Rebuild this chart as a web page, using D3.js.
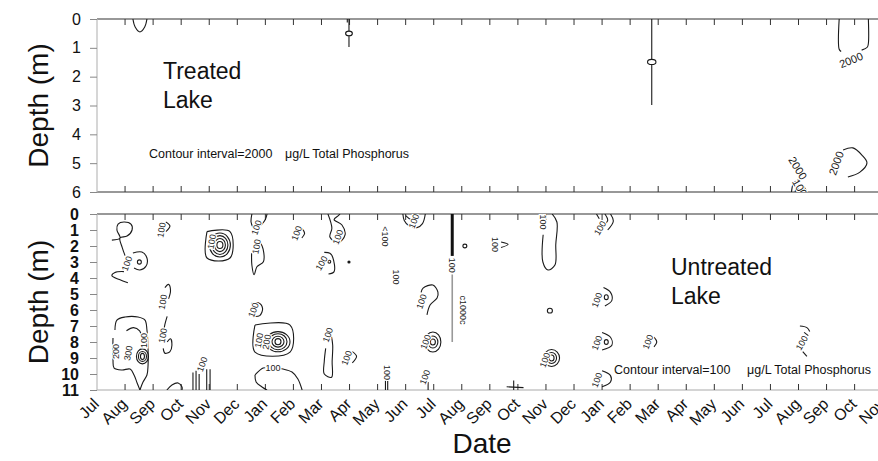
<!DOCTYPE html>
<html><head><meta charset="utf-8">
<script src="https://cdn.jsdelivr.net/npm/d3@7"></script>
<style>
body{margin:0;background:#fff;}
svg{display:block;font-family:"Liberation Sans",Arial,sans-serif;}
</style></head>
<body><svg id="c" width="878" height="461"></svg>
<script>
// ---------- data ----------
const months = ["Jul","Aug","Sep","Oct","Nov","Dec","Jan","Feb","Mar","Apr","May","Jun","Jul","Aug","Sep","Oct","Nov","Dec","Jan","Feb","Mar","Apr","May","Jun","Jul","Aug","Sep","Oct","Nov"];
const treatedDepthTicks = [0,1,2,3,4,5,6];
const untreatedDepthTicks = [0,1,2,3,4,5,6,7,8,9,10,11];

// contour lines: [monthIndex, depth(m)]
const treatedLines = [
  [[1.28,0],[1.36,0.28],[1.53,0.45],[1.7,0.28],[1.78,0]],
  [[8.98,0],[8.98,0.42]], [[8.98,0.58],[8.98,0.97]], [[8.92,0],[8.92,0.12]],
  [[19.77,0],[19.77,1.4]], [[19.77,1.58],[19.77,2.98]],
  [[26.45,0],[26.45,1.05],[26.52,1.13]],
  [[27.25,1.08],[27.45,0.98],[27.49,0.85],[27.49,0]],
  [[26.59,4.54],[26.94,4.47],[27.26,4.72],[27.44,4.99],[27.19,5.31],[26.76,5.48]],
  [[24.75,6],[24.82,5.7],[24.95,5.6]], [[24.88,6],[24.95,5.8],[25.12,5.75],[25.3,6]], [[25.0,6],[25.08,5.9],[25.18,6]]
];
const treatedRings = [
  {m:8.98,d:0.5,rm:0.12,rd:0.08},
  {m:19.77,d:1.49,rm:0.15,rd:0.09}
];
const treatedLabels = [
  {m:26.87,d:1.42,t:"2000",r:-22},
  {m:26.34,d:5.0,t:"2000",r:-70},
  {m:24.98,d:5.17,t:"2000",r:58},
  {m:25.05,d:5.85,t:"100",r:60}
];

const untreatedLines = [
  [[0.53,1.63],[0.82,1.5],[0.71,1.0],[0.75,0.63],[0.96,0.5],[1.21,0.63],[1.25,1.0],[1.07,1.38],[0.82,1.5],[0.9,2.1],[1.0,2.6]],
  [[0.96,3.6],[0.64,3.65],[0.53,3.85],[0.8,4.1],[1.1,4.3]],
  [[1.28,2.44],[1.6,2.38],[1.78,2.75],[1.75,3.25],[1.53,3.5],[1.32,3.38]],
  [[2.45,0.5],[2.6,0.75],[2.45,1.1]],
  [[3.92,1.1],[4.74,1.1],[4.74,2.75],[3.92,2.75],[3.92,1.1]],
  [[5.52,0],[5.49,0.5],[5.56,0.85]], [[5.85,0.7],[6.0,0.35],[6.06,0]],
  [[5.8,1.7],[5.92,2.2],[5.93,2.98],[5.7,3.3],[5.6,3.8],[5.52,3.2],[5.51,2.45]],
  [[7.3,0.9],[7.4,1.2],[7.3,1.5]],
  [[2.42,4.6],[2.55,4.4],[2.62,4.8],[2.55,5.3]], [[2.5,6.4],[2.42,6.9],[2.38,7.3]],
  [[2.5,8.0],[2.62,7.8],[2.67,8.2],[2.6,8.6],[2.42,8.7],[2.36,8.4]],
  [[5.5,5.6],[5.75,5.55],[5.9,5.9],[5.8,6.35],[5.55,6.4]],
  [[0.64,7.25],[0.71,6.63],[1.0,6.44],[1.46,6.44],[1.71,6.63],[1.78,7.25],[1.82,8.5],[1.82,9.44],[1.78,10.06],[1.64,10.5],[1.53,11]],
  [[0.57,7.75],[0.57,9.13],[0.61,9.63],[0.89,9.75],[1.18,9.69],[1.32,10.06],[1.43,10.56],[1.53,11]],
  [[1.05,7.3],[1.3,7.1],[1.52,7.3],[1.58,7.6]],
  [[5.63,6.94],[6.88,6.94],[6.88,8.63],[5.63,8.63],[5.63,6.94]],
  [[5.63,10.06],[5.92,9.63],[6.05,9.62]], [[6.5,9.66],[6.63,9.69],[6.95,9.88],[7.16,10.31],[7.31,11]],
  [[5.63,10.06],[5.67,10.5],[5.88,10.81],[6.06,11]],
  [[2.49,11],[2.67,10.69],[2.89,10.56],[3.03,10.81],[3.03,11]],
  [[3.42,9.9],[3.42,11]], [[3.53,9.8],[3.53,11]], [[3.64,10.0],[3.64,11]], [[3.91,9.7],[3.91,11]], [[4.03,9.7],[4.03,11]],
  [[8.23,0],[8.37,0.88],[8.3,1.44],[8.59,1.81],[8.84,1.31],[8.73,0.69],[8.45,0.35],[8.6,0.1],[8.66,0]],
  [[8.1,2.4],[8.3,2.45],[8.4,2.7],[8.45,3.6],[8.25,3.75]],
  [[10.9,0],[10.95,0.4],[11.1,0.7],[11.4,0.85],[11.6,0.6],[11.7,0]], [[11.0,0.1],[11.2,0.35],[11.45,0.3]],
  [[11.55,4.9],[11.62,4.63],[11.97,4.44],[12.15,4.88],[12.12,5.25],[11.87,5.69],[11.76,6.31]],
  [[8.35,7.6],[8.4,8.2],[8.38,9.2],[8.36,10.2],[8.1,10.0],[8.1,9.2],[8.15,8.4]],
  [[9.1,8.6],[9.25,8.9],[9.1,9.3]],
  [[10.28,10.4],[10.28,11]], [[10.36,10.4],[10.36,11]],
  [[11.8,10.5],[11.8,11]],
  [[14.4,1.75],[14.65,1.9],[14.4,2.1]],
  [[16.22,0],[16.39,0.5],[16.35,1.9],[16.32,3.19],[16.07,3.5],[15.89,3.0],[15.9,1.3]],
  [[14.6,10.8],[15.2,10.85]], [[14.85,10.4],[14.85,11]],
  [[17.8,0],[17.9,0.3]], [[18.1,0],[18.2,0.4],[18.05,0.7]], [[18.3,0],[18.4,0.45],[18.2,1.0]],
  [[18.05,4.6],[18.3,4.9],[18.35,5.4],[18.1,5.75]],
  [[18.0,7.4],[18.3,7.7],[18.35,8.2],[18.0,8.5]],
  [[19.85,7.7],[19.95,8.0],[19.85,8.3]],
  [[18.0,9.8],[18.3,10.1],[18.3,10.5],[18.0,10.8]],
  [[25.05,7.0],[25.3,7.1],[25.4,7.35]], [[25.2,7.4],[25.35,7.6]], [[25.15,8.6],[25.3,8.9]]
];
const untreatedRings = [
  {m:1.51,d:3.0,rm:0.07,rd:0.13},
  {m:4.38,d:1.94,rm:0.107,rd:0.22},{m:4.38,d:1.94,rm:0.196,rd:0.41},{m:4.38,d:1.94,rm:0.285,rd:0.59},{m:4.38,d:1.94,rm:0.374,rd:0.75},
  {m:6.45,d:7.98,rm:0.107,rd:0.19},{m:6.45,d:7.98,rm:0.214,rd:0.34},{m:6.45,d:7.98,rm:0.321,rd:0.5},{m:6.45,d:7.98,rm:0.428,rd:0.63},
  {m:1.62,d:8.9,rm:0.071,rd:0.19},{m:1.62,d:8.9,rm:0.143,rd:0.31},{m:1.62,d:8.9,rm:0.214,rd:0.47},
  {m:11.97,d:8.0,rm:0.089,rd:0.19},{m:11.97,d:8.0,rm:0.178,rd:0.375},{m:11.97,d:8.0,rm:0.285,rd:0.625},
  {m:16.2,d:9.0,rm:0.089,rd:0.19},{m:16.2,d:9.0,rm:0.178,rd:0.34},{m:16.2,d:9.0,rm:0.285,rd:0.53},
  {m:8.28,d:2.98,rm:0.05,rd:0.09},
  {m:13.11,d:2.0,rm:0.07,rd:0.12},
  {m:16.14,d:6.04,rm:0.09,rd:0.15},
  {m:18.15,d:5.2,rm:0.07,rd:0.15},
  {m:18.15,d:8.0,rm:0.07,rd:0.15}
];
const untreatedDots = [{m:8.98,d:3.0}];
const untreatedThick = [[12.66,0],[12.66,2.62]];
const untreatedThin = [[12.66,3.78],[12.66,8.0]];
const untreatedLabels = [
  {m:1.07,d:3.1,t:"100",r:-70},
  {m:2.3,d:1.0,t:"100",r:-80},
  {m:4.09,d:1.73,t:"100",r:-80},
  {m:5.69,d:0.85,t:"100",r:-70},
  {m:5.69,d:2.04,t:"100",r:-80},
  {m:7.12,d:1.2,t:"100",r:-70},
  {m:2.35,d:5.5,t:"100",r:-80},
  {m:2.35,d:7.6,t:"100",r:-80},
  {m:5.58,d:6.0,t:"100",r:-70},
  {m:0.66,d:8.6,t:"200",r:-90},
  {m:1.12,d:8.7,t:"300",r:-80},
  {m:1.66,d:7.9,t:"100",r:-90},
  {m:5.78,d:7.9,t:"100",r:-80},
  {m:6.05,d:8.0,t:"200",r:-80},
  {m:6.27,d:9.63,t:"100",r:0},
  {m:3.75,d:9.4,t:"100",r:-70},
  {m:8.59,d:1.44,t:"100",r:-70},
  {m:8.01,d:3.08,t:"100",r:-60},
  {m:10.26,d:1.4,t:"<100",r:90},
  {m:10.66,d:3.94,t:"100",r:90},
  {m:11.3,d:0.45,t:"100",r:-70},
  {m:12.66,d:3.2,t:"100",r:90},
  {m:14.2,d:1.9,t:"100",r:90},
  {m:13.04,d:6.0,t:"c1000c",r:90},
  {m:11.57,d:5.48,t:"100",r:-70},
  {m:11.72,d:8.0,t:"100",r:-70},
  {m:8.23,d:7.56,t:"100",r:-70},
  {m:8.9,d:9.0,t:"100",r:-70},
  {m:10.33,d:9.9,t:"100",r:90},
  {m:11.69,d:10.2,t:"100",r:-70},
  {m:15.89,d:0.5,t:"100",r:90},
  {m:15.97,d:9.13,t:"100",r:-70},
  {m:17.93,d:0.88,t:"100",r:-60},
  {m:17.82,d:5.38,t:"100",r:-70},
  {m:17.82,d:8.06,t:"100",r:-70},
  {m:19.64,d:8.0,t:"100",r:-70},
  {m:25.12,d:8.06,t:"100",r:-60},
  {m:17.82,d:10.38,t:"100",r:-70}
];

// ---------- drawing ----------
const svg = d3.select("#c");
const W = 878, H = 461;
const xS = d3.scaleLinear().domain([0, months.length - 1]).range([97, 97 + 28 * 28.06]);

function panel(cfg) {
  const y = d3.scaleLinear().domain([0, cfg.maxD]).range([cfg.top, cfg.bottom]);
  const g = svg.append("g");
  const id = "clip" + cfg.name;
  svg.append("clipPath").attr("id", id).append("rect")
    .attr("x", 97).attr("y", cfg.top).attr("width", W - 97).attr("height", cfg.bottom - cfg.top);

  g.append("line").attr("x1", 97).attr("x2", W).attr("y1", cfg.top).attr("y2", cfg.top).attr("stroke", "#333").attr("stroke-width", 1.2);
  g.append("line").attr("x1", 97).attr("x2", W).attr("y1", cfg.bottom).attr("y2", cfg.bottom).attr("stroke", cfg.bottomColor).attr("stroke-width", 1.2);
  g.append("line").attr("x1", 97).attr("x2", 97).attr("y1", cfg.top).attr("y2", cfg.bottom).attr("stroke", "#bbb").attr("stroke-width", 1.2);

  const mi = d3.range(1, months.length);
  g.selectAll(null).data(mi).join("line")
    .attr("x1", d => xS(d)).attr("x2", d => xS(d)).attr("y1", cfg.top).attr("y2", cfg.top + 6)
    .attr("stroke", "#333").attr("stroke-width", 1);
  g.selectAll(null).data(mi).join("line")
    .attr("x1", d => xS(d)).attr("x2", d => xS(d)).attr("y1", cfg.bottom).attr("y2", cfg.bottom - 6)
    .attr("stroke", "#333").attr("stroke-width", 1);

  const yAxis = d3.axisLeft(y).tickValues(cfg.ticks).tickSize(7).tickPadding(cfg.pad).tickFormat(d3.format("d"));
  const ya = g.append("g").attr("transform", "translate(97,0)").call(yAxis);
  ya.select(".domain").remove();
  ya.selectAll(".tick line").attr("stroke", "#888");
  ya.selectAll(".tick text").attr("font-size", cfg.fs).attr("fill", "#111")
    .attr("font-family", "Liberation Sans, Arial, sans-serif").attr("font-weight", cfg.fw);

  g.append("text").attr("transform", `translate(48,${(cfg.top + cfg.bottom) / 2}) rotate(-90)`)
    .attr("text-anchor", "middle").attr("font-size", 28).attr("fill", "#111").text("Depth (m)");

  const cg = g.append("g").attr("clip-path", `url(#${id})`);
  const line = d3.line().x(p => xS(p[0])).y(p => y(p[1])).curve(d3.curveCatmullRom.alpha(0.5));
  cg.selectAll(null).data(cfg.lines).join("path")
    .attr("d", line).attr("fill", "none").attr("stroke", "#1a1a1a").attr("stroke-width", 1.1);
  cg.selectAll(null).data(cfg.rings).join("ellipse")
    .attr("cx", r => xS(r.m)).attr("cy", r => y(r.d))
    .attr("rx", r => xS(r.m + r.rm) - xS(r.m)).attr("ry", r => y(r.d + r.rd) - y(r.d))
    .attr("fill", "none").attr("stroke", "#1a1a1a").attr("stroke-width", 1.1);
  if (cfg.dots) cg.selectAll(null).data(cfg.dots).join("circle")
    .attr("cx", r => xS(r.m)).attr("cy", r => y(r.d)).attr("r", 1.6).attr("fill", "#1a1a1a");
  if (cfg.thick) {
    cg.append("path").attr("d", d3.line().x(p => xS(p[0])).y(p => y(p[1]))(cfg.thick)).attr("stroke", "#111").attr("stroke-width", 3);
    cg.append("path").attr("d", d3.line().x(p => xS(p[0])).y(p => y(p[1]))(cfg.thin)).attr("stroke", "#999").attr("stroke-width", 1.6);
  }
  cg.selectAll(null).data(cfg.labels).join("text")
    .attr("transform", l => `translate(${xS(l.m)},${y(l.d)}) rotate(${l.r})`)
    .attr("text-anchor", "middle").attr("dominant-baseline", "central")
    .attr("font-size", cfg.lfs).attr("fill", "#1a1a1a")
    .attr("stroke", "#fff").attr("stroke-width", 2.5).attr("paint-order", "stroke")
    .text(l => l.t);
  return {g, y};
}

panel({name: "t", top: 19, bottom: 192, maxD: 6, ticks: treatedDepthTicks, fs: 16, fw: "normal", pad: 9,
  bottomColor: "#333", lines: treatedLines, rings: treatedRings, labels: treatedLabels, lfs: 11});
panel({name: "b", top: 214, bottom: 390, maxD: 11, ticks: untreatedDepthTicks, fs: 16, fw: "bold", pad: 11,
  bottomColor: "#aaa", lines: untreatedLines, rings: untreatedRings, labels: untreatedLabels, lfs: 9,
  dots: untreatedDots, thick: untreatedThick, thin: untreatedThin});

svg.selectAll(null).data(months).join("text")
  .attr("transform", (d, i) => `translate(${xS(i) + 3},${405}) rotate(-45)`)
  .attr("text-anchor", "end").attr("font-size", 16).attr("fill", "#111")
  .text(d => d);

svg.append("text").attr("x", 482).attr("y", 453).attr("text-anchor", "middle")
  .attr("font-size", 28).attr("fill", "#111").text("Date");

function two(xp, y1, y2, a, b) {
  svg.append("text").attr("x", xp).attr("y", y1).attr("font-size", 23).attr("fill", "#111").text(a);
  svg.append("text").attr("x", xp).attr("y", y2).attr("font-size", 23).attr("fill", "#111").text(b);
}
two(163, 79, 108, "Treated", "Lake");
two(671, 275, 304, "Untreated", "Lake");
svg.append("text").attr("x", 149).attr("y", 158).attr("font-size", 12.5).attr("fill", "#111").text("Contour interval=2000");
svg.append("text").attr("x", 285).attr("y", 158).attr("font-size", 12.5).attr("fill", "#111").text("μg/L Total Phosphorus");
svg.append("text").attr("x", 614).attr("y", 374).attr("font-size", 12.5).attr("fill", "#111").text("Contour interval=100");
svg.append("text").attr("x", 747).attr("y", 374).attr("font-size", 12.5).attr("fill", "#111").text("μg/L Total Phosphorus");
</script></body></html>
